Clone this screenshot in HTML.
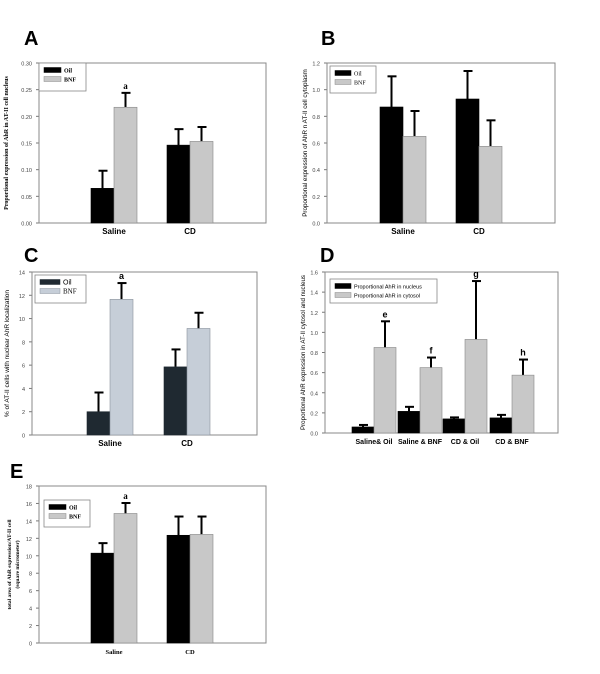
<!DOCTYPE html>
<html><head><meta charset="utf-8"><style>
html,body{margin:0;padding:0;background:#fff;}
svg{display:block;font-family:"Liberation Sans",sans-serif;}
</style></head><body>
<svg id="fig" width="600" height="674" viewBox="0 0 600 674"></svg>
<script>
// Panel A
const catsA=["Saline","CD"];
const oilA=[0.065,0.146], oilErrA=[0.098,0.176];
const bnfA=[0.217,0.153], bnfErrA=[0.244,0.180];
const ticksA=["0.00","0.05","0.10","0.15","0.20","0.25","0.30"];
// Panel B
const catsB=["Saline","CD"];
const oilB=[0.87,0.93], oilErrB=[1.10,1.14];
const bnfB=[0.65,0.575], bnfErrB=[0.84,0.77];
const ticksB=["0.0","0.2","0.4","0.6","0.8","1.0","1.2"];
// Panel C
const catsC=["Saline","CD"];
const oilC=[2.0,5.85], oilErrC=[3.65,7.35];
const bnfC=[11.65,9.15], bnfErrC=[13.05,10.5];
const ticksC=["0","2","4","6","8","10","12","14"];
// Panel D
const catsD=["Saline& Oil","Saline & BNF","CD & Oil","CD & BNF"];
const nucD=[0.06,0.215,0.14,0.15], nucErrD=[0.08,0.26,0.155,0.18];
const cytD=[0.85,0.65,0.93,0.575], cytErrD=[1.11,0.75,1.51,0.73];
const lettersD=["e","f","g","h"];
const ticksD=["0.0","0.2","0.4","0.6","0.8","1.0","1.2","1.4","1.6"];
// Panel E
const catsE=["Saline","CD"];
const oilE=[10.3,12.35], oilErrE=[11.45,14.5];
const bnfE=[14.85,12.45], bnfErrE=[16.05,14.5];
const ticksE=["0","2","4","6","8","10","12","14","16","18"];

const NS="http://www.w3.org/2000/svg";
const svg=document.getElementById("fig");
function mk(tag,attrs,parent,text){
  const e=document.createElementNS(NS,tag);
  for(const k in attrs)e.setAttribute(k,attrs[k]);
  if(text!==undefined)e.textContent=text;
  (parent||svg).appendChild(e);return e;
}
function panel(cfg){
  const g=mk("g",{});
  
  
  const L=cfg.box[0],T=cfg.box[1],R=cfg.box[2],B=cfg.box[3];
  const ymax=parseFloat(cfg.ticks[cfg.ticks.length-1]);
  const y=v=>B-(v/ymax)*(B-T);
  const lab=mk("text",{x:cfg.label[0],y:cfg.label[1],"font-size":20,"font-weight":"bold"},g,cfg.letter);
  
  
  cfg.ticks.forEach(t=>{
    const yy=y(parseFloat(t));
    mk("line",{x1:L-3,x2:L,y1:yy,y2:yy,stroke:"#777","stroke-width":1},g);
    const tt=mk("text",{x:L-7,y:yy+2.5,"font-size":5.5,"text-anchor":"end",fill:"#444"},g,t);
    
    
  });
  const ax=mk("rect",{x:L,y:T,width:R-L,height:B-T,fill:"none",stroke:"#888","stroke-width":1},g);
  
  
  const yt=mk("text",{transform:`translate(${cfg.ytPos[0]},${(T+B)/2}) rotate(-90)`,"font-size":cfg.ytSize,"text-anchor":"middle","font-weight":cfg.serif?"bold":"normal","font-family":cfg.serif?"Liberation Serif,serif":"Liberation Sans,sans-serif"},g);
  
  
  cfg.ytitle.forEach((s,i)=>mk("tspan",{x:0,dy:i?8:0},yt,s));
  const n=cfg.cats.length;
  cfg.cats.forEach((c,i)=>{
    const cx=cfg.centers[i];
    cfg.series.forEach((s,j)=>{
      const x0=cx+(j===0?-cfg.bw:0);
      const v=s.vals[i],e=s.errs[i];
      const ex=x0+cfg.bw/2;
      const el=mk("line",{x1:ex,x2:ex,y1:y(v),y2:y(e),stroke:"#000","stroke-width":2},g);
      
      
      mk("line",{x1:ex-4,x2:ex+5,y1:y(e),y2:y(e),stroke:"#000","stroke-width":2},g);
      const r=mk("rect",{x:x0,y:y(v),width:cfg.bw,height:B-y(v),fill:s.color,stroke:s.stroke,"stroke-width":0.6},g);
      
      
      if(s.letters&&s.letters[i]){
        const lt=mk("text",{x:ex,y:y(e)-4,"font-size":9,"text-anchor":"middle","font-weight":"bold","font-family":cfg.serif?"Liberation Serif,serif":"Liberation Sans,sans-serif"},g,s.letters[i]);
        
        
      }
    });
    const cl=mk("text",{x:cx,y:B+11,"font-size":cfg.catSize,"text-anchor":"middle","font-weight":"bold","font-family":cfg.catSerif?"Liberation Serif,serif":"Liberation Sans,sans-serif"},g,c);
    
    
  });
  const lg=cfg.legend;
  const lgG=mk("g",{},g);
  
  
  mk("rect",{x:lg[0],y:lg[1],width:lg[2],height:lg[3],fill:"#fff",stroke:"#888","stroke-width":0.8},lgG);
  cfg.series.forEach((s,j)=>{
    const yy=lg[1]+7+j*9;
    mk("rect",{x:lg[0]+5,y:yy-2.5,width:cfg.swW,height:5,fill:s.color,stroke:s.stroke,"stroke-width":0.5},lgG);
    const tx=mk("text",{x:lg[0]+8+cfg.swW,y:yy+2.5,"font-size":cfg.lgSize,"font-weight":cfg.serif?"bold":"normal","font-family":cfg.lgSerif&&cfg.lgSerif[j]?"Liberation Serif,serif":"Liberation Sans,sans-serif"},lgG,s.label);
    
    
  });
}
const blk="#000",gry="#c8c8c8";
panel({name:"panel-a",letter:"A",label:[24,45],box:[39,63,266,223],ticks:ticksA,cats:catsA,centers:[114,190],bw:23,
  series:[{key:"oil",label:"Oil",vals:oilA,errs:oilErrA,color:blk,stroke:"#000"},{key:"bnf",label:"BNF",vals:bnfA,errs:bnfErrA,color:gry,stroke:"#888",letters:["a",""]}],
  legend:[39,63,47,28],swW:17,lgSize:6,serif:true,lgSerif:[1,1],ytitle:["Proportional expression of AhR in AT-II cell nucleus"],ytPos:[8],ytSize:6,catSize:8,catSerif:false});
panel({name:"panel-b",letter:"B",label:[321,45],box:[327,63,555,223],ticks:ticksB,cats:catsB,centers:[403,479],bw:23,
  series:[{key:"oil",label:"Oil",vals:oilB,errs:oilErrB,color:blk,stroke:"#000"},{key:"bnf",label:"BNF",vals:bnfB,errs:bnfErrB,color:gry,stroke:"#888"}],
  legend:[330,66,46,27],swW:16,lgSize:6,serif:false,lgSerif:[1,1],ytitle:["Proportional expression of AhR n AT-II cell cytoplasm"],ytPos:[307],ytSize:6.3,catSize:8,catSerif:false});
panel({name:"panel-c",letter:"C",label:[24,262],box:[32,272,257,435],ticks:ticksC,cats:catsC,centers:[110,187],bw:23,
  series:[{key:"oil",label:"Oil",vals:oilC,errs:oilErrC,color:"#1f2931",stroke:"#1f2931"},{key:"bnf",label:"BNF",vals:bnfC,errs:bnfErrC,color:"#c6ced8",stroke:"#8a929c",letters:["a",""]}],
  legend:[35,275,51,28],swW:20,lgSize:7,serif:false,lgSerif:[0,1],ytitle:["% of AT-II cells with nuclear AhR localization"],ytPos:[9],ytSize:6.5,catSize:8,catSerif:false});
panel({name:"panel-d",letter:"D",label:[320,262],box:[325,272,558,433],ticks:ticksD,cats:catsD,centers:[374,420,465,512],bw:22,
  series:[{key:"nucleus",label:"Proportional AhR in nucleus",vals:nucD,errs:nucErrD,color:blk,stroke:"#000"},{key:"cytosol",label:"Proportional AhR in cytosol",vals:cytD,errs:cytErrD,color:gry,stroke:"#888",letters:lettersD}],
  legend:[330,279,107,24],swW:16,lgSize:5.5,serif:false,lgSerif:[0,0],ytitle:["Proportional AhR expression in AT-II cytosol and nucleus"],ytPos:[305],ytSize:6.2,catSize:7,catSerif:false});
panel({name:"panel-e",letter:"E",label:[10,478],box:[39,486,266,643],ticks:ticksE,cats:catsE,centers:[114,190],bw:23,
  series:[{key:"oil",label:"Oil",vals:oilE,errs:oilErrE,color:blk,stroke:"#000"},{key:"bnf",label:"BNF",vals:bnfE,errs:bnfErrE,color:gry,stroke:"#888",letters:["a",""]}],
  legend:[44,500,46,27],swW:17,lgSize:6,serif:true,lgSerif:[1,1],ytitle:["total area of AhR expression/AT-II cell","(square micrometer)"],ytPos:[11],ytSize:5.5,catSize:6.5,catSerif:true});
</script>
</body></html>
